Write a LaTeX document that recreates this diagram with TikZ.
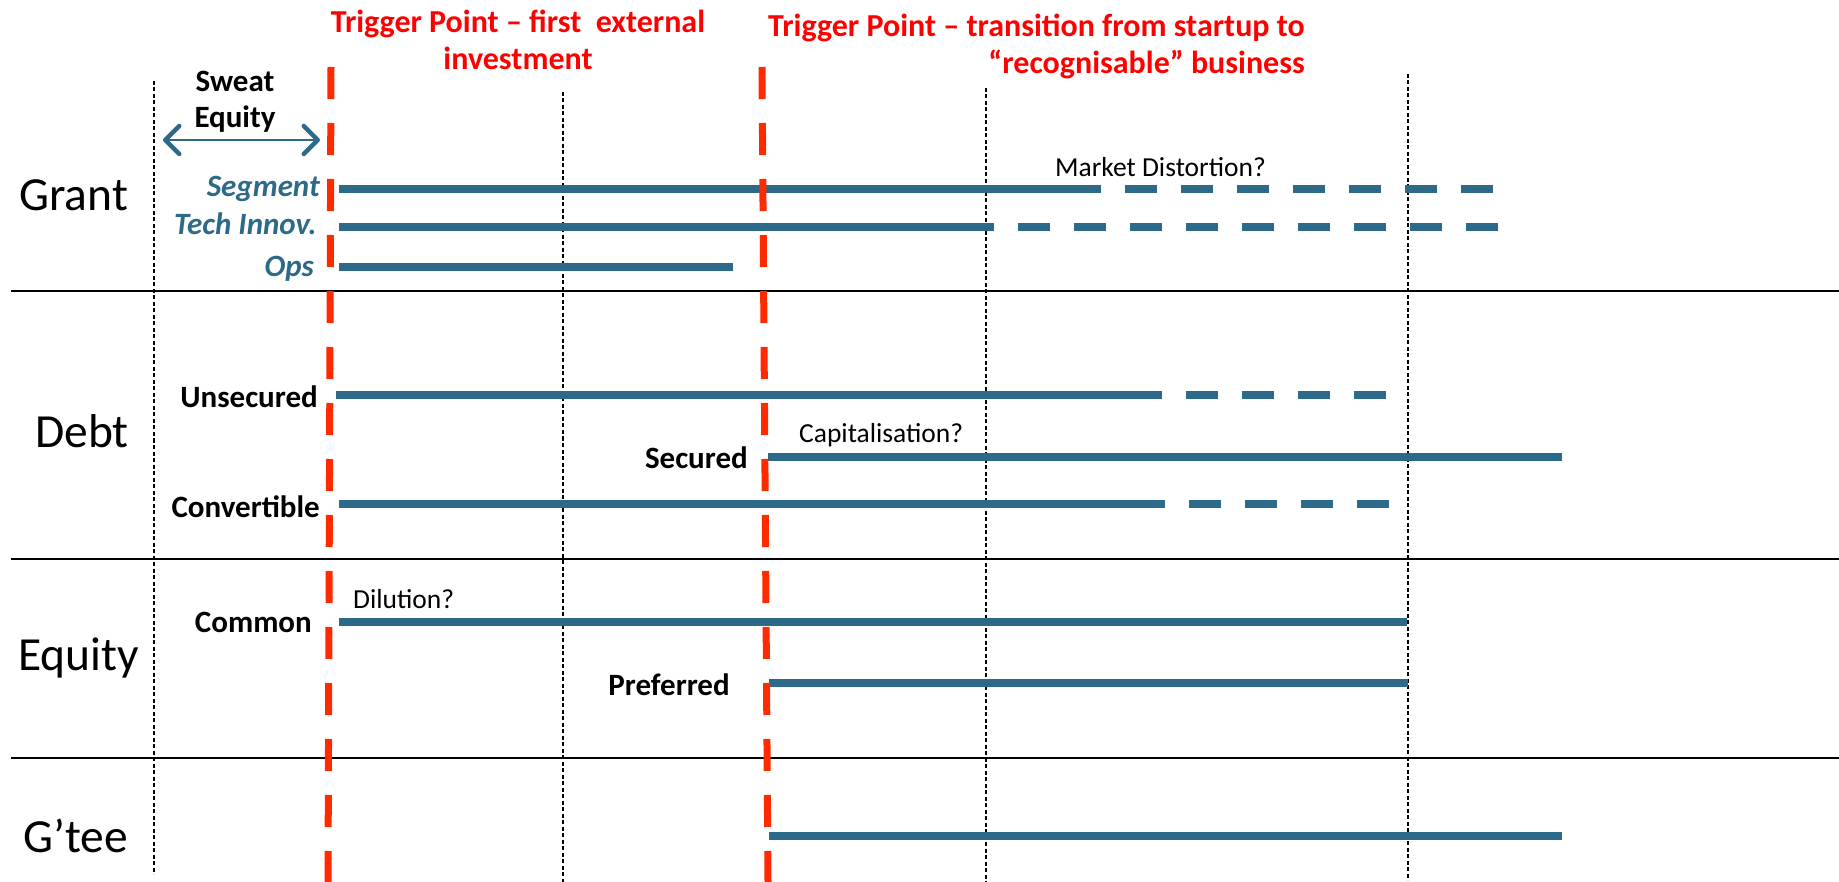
\documentclass[tikz,border=0pt]{standalone}
\usepackage{fontspec}
\setmainfont{Carlito}
\usetikzlibrary{arrows.meta}
\definecolor{barblue}{HTML}{2D6A89}
\definecolor{trigred}{HTML}{FF2A00}
\definecolor{titlered}{HTML}{FF0000}
\newcommand{\fs}[1]{\fontsize{#1}{#1}\selectfont}
\begin{document}
\begin{tikzpicture}[x=1pt,y=-1pt,
  bar/.style={line width=8pt,color=barblue},
  dashbar/.style={bar,dash pattern=on 32pt off 24pt},
  trigger/.style={line width=7pt,color=trigred,dash pattern=on 32pt off 24pt},
  guide/.style={line width=1.3pt,black,dash pattern=on 4pt off 2.5pt},
  sep/.style={line width=2pt,black},
  cat/.style={inner sep=0pt,font=\fs{47.5}},
  lab/.style={inner sep=0pt,font=\fs{31}\bfseries},
  grantlab/.style={inner sep=0pt,font=\fs{31}\bfseries\itshape,text=barblue},
  note/.style={inner sep=0pt,font=\fs{27.5}},
  title/.style={inner sep=0pt,font=\fs{32}\bfseries,text=titlered}]
\useasboundingbox (0,0) rectangle (1839,882);

% horizontal separators between the instrument groups
\coordinate (s1a) at (11,291); \coordinate (s1b) at (1839,291);
\coordinate (s2a) at (11,559); \coordinate (s2b) at (1839,559);
\coordinate (s3a) at (11,758); \coordinate (s3b) at (1839,758);
\draw[sep] (s1a) -- (s1b);
\draw[sep] (s2a) -- (s2b);
\draw[sep] (s3a) -- (s3b);

% stage boundaries
\coordinate (g1t) at (154,81);   \coordinate (g1b) at (154,874);
\coordinate (g2t) at (563,92);   \coordinate (g2b) at (563,882);
\coordinate (g3t) at (986,88);   \coordinate (g3b) at (986,882);
\coordinate (g4t) at (1408,74);  \coordinate (g4b) at (1408,880);
\draw[guide] (g1t) -- (g1b);
\draw[guide] (g2t) -- (g2b);
\draw[guide] (g3t) -- (g3b);
\draw[guide] (g4t) -- (g4b);

% category labels
\node[cat,anchor=base west] (grant)  at (19,211) {Grant};
\node[cat,anchor=base west] (debt)   at (35,447) {Debt};
\node[cat,anchor=base west] (equity) at (18,670) {Equity};
\node[cat,anchor=base west] (gtee)   at (23,852) {G’tee};

% sweat equity span
\node[lab,anchor=base] (sweat) at (235,92) {Sweat};
\node[lab,anchor=base] (sweq)  at (235,128) {Equity};
\coordinate (swl) at (163,140); \coordinate (swr) at (320,140);
\draw[barblue,line width=2.5pt,
  {Straight Barb[length=14pt,width=28pt,line width=4.5pt,round]}-{Straight Barb[length=14pt,width=28pt,line width=4.5pt,round]}]
  (swl) -- (swr);

% trigger point titles
\node[title,anchor=base] (t1a) at (518,33) {Trigger Point – first\ \ external};
\node[title,anchor=base] (t1b) at (518,70) {investment};
\node[title,anchor=base east] (t2a) at (1305,37) {Trigger Point – transition from startup to};
\node[title,anchor=base east] (t2b) at (1305,74) {“recognisable” business};

% grant lines
\node[grantlab,anchor=base east] (seg)  at (320,197) {Segment};
\node[grantlab,anchor=base east] (tech) at (317,235) {Tech Innov.};
\node[grantlab,anchor=base east] (ops)  at (314,277) {Ops};
\coordinate (segA) at (339,189); \coordinate (segB) at (1069,189); \coordinate (segC) at (1493,189);
\coordinate (tecA) at (339,227); \coordinate (tecB) at (962,227);  \coordinate (tecC) at (1498,227);
\coordinate (opsA) at (339,267); \coordinate (opsB) at (733,267);
\draw[bar] (segA) -- (segB);
\draw[dashbar] (segB) -- (segC);
\draw[bar] (tecA) -- (tecB);
\draw[dashbar] (tecB) -- (tecC);
\draw[bar] (opsA) -- (opsB);
\node[note,anchor=base west] (mkt) at (1055,177) {Market Distortion?};

% debt lines
\node[lab,anchor=base east] (unsec) at (318,407) {Unsecured};
\node[lab,anchor=base east] (sec)   at (748,468) {Secured};
\node[lab,anchor=base east] (conv)  at (320,517) {Convertible};
\coordinate (unA) at (336,395);  \coordinate (unB) at (1130,395); \coordinate (unC) at (1386,395);
\coordinate (seA) at (768,457);  \coordinate (seB) at (1562,457);
\coordinate (cvA) at (339,504);  \coordinate (cvB) at (1133,504); \coordinate (cvC) at (1389,504);
\draw[bar] (unA) -- (unB);
\draw[dashbar] (unB) -- (unC);
\draw[bar] (seA) -- (seB);
\draw[bar] (cvA) -- (cvB);
\draw[dashbar] (cvB) -- (cvC);
\node[note,anchor=base west] (capq) at (799,442) {Capitalisation?};

% equity lines
\node[lab,anchor=base east] (comm) at (312,632) {Common};
\node[lab,anchor=base east] (pref) at (730,695) {Preferred};
\coordinate (coA) at (339,622); \coordinate (coB) at (1407,622);
\coordinate (prA) at (769,683); \coordinate (prB) at (1408,683);
\draw[bar] (coA) -- (coB);
\draw[bar] (prA) -- (prB);
\node[note,anchor=base west] (dil) at (353,608) {Dilution?};

% guarantee line
\coordinate (gtA) at (769,836); \coordinate (gtB) at (1562,836);
\draw[bar] (gtA) -- (gtB);

% trigger point boundaries
\coordinate (r1t) at (331,67);  \coordinate (r1b) at (328,882);
\coordinate (r2t) at (762,67);  \coordinate (r2b) at (768,882);
\draw[trigger] (r1t) -- (r1b);
\draw[trigger] (r2t) -- (r2b);
\end{tikzpicture}
\end{document}
